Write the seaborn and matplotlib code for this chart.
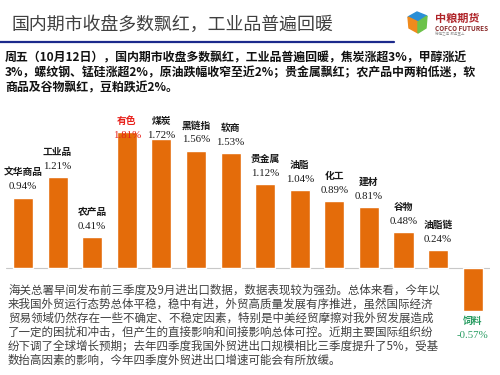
import matplotlib
matplotlib.use("Agg")
import matplotlib.pyplot as plt
import seaborn as sns
import pandas as pd
from matplotlib.patches import Polygon

sns.set_theme(style="white")
plt.rcParams['font.family'] = ['Noto Sans CJK SC', 'DejaVu Sans']

categories = ["文华商品", "工业品", "农产品", "有色", "煤炭", "黑链指", "软商",
              "贵金属", "油脂", "化工", "建材", "谷物", "油脂链", "饲料"]
values = [0.94, 1.21, 0.41, 1.81, 1.72, 1.56, 1.53, 1.12, 1.04, 0.89, 0.81, 0.48, 0.24, -0.57]
value_labels = ["0.94%", "1.21%", "0.41%", "1.81%", "1.72%", "1.56%", "1.53%",
                "1.12%", "1.04%", "0.89%", "0.81%", "0.48%", "0.24%", "-0.57%"]

title = "国内期市收盘多数飘红，工业品普遍回暖"
intro_lines = [
    "周五（10月12日），国内期市收盘多数飘红，工业品普遍回暖，焦炭涨超3%，甲醇涨近",
    "3%，螺纹钢、锰硅涨超2%，原油跌幅收窄至近2%；贵金属飘红；农产品中两粕低迷，软",
    "商品及谷物飘红，豆粕跌近2%。",
]
note_lines = [
    "海关总署早间发布前三季度及9月进出口数据，数据表现较为强劲。总体来看，今年以",
    "来我国外贸运行态势总体平稳，稳中有进，外贸高质量发展有序推进，虽然国际经济",
    "贸易领域仍然存在一些不确定、不稳定因素，特别是中美经贸摩擦对我外贸发展造成",
    "了一定的困扰和冲击，但产生的直接影响和间接影响总体可控。近期主要国际组织纷",
    "纷下调了全球增长预期；去年四季度我国外贸进出口规模相比三季度提升了5%，受基",
    "数抬高因素的影响，今年四季度外贸进出口增速可能会有所放缓。",
]

W, H = 500, 375
fig = plt.figure(figsize=(5, 3.75), dpi=100)
fig.patch.set_facecolor("white")

def fx(x):
    return x / W

def fy(y):
    return 1 - y / H

# Title and header
fig.text(fx(11), fy(25), title, fontsize=12.9, color="#404040", va="center", ha="left")
fig.add_artist(plt.Line2D([0, fx(394)], [fy(42), fy(42)], color="#1c2a8c", lw=1.6))

# Logo
cube_top = Polygon([[fx(408), fy(17)], [fx(417), fy(12)], [fx(427), fy(16)], [fx(418), fy(22)]],
                   closed=True, transform=fig.transFigure, color="#2a8fd6")
cube_left = Polygon([[fx(408), fy(17)], [fx(418), fy(22)], [fx(418), fy(33)], [fx(409), fy(28)]],
                    closed=True, transform=fig.transFigure, color="#f08a1c")
cube_right = Polygon([[fx(418), fy(22)], [fx(427), fy(16)], [fx(426), fy(28)], [fx(418), fy(33)]],
                     closed=True, transform=fig.transFigure, color="#6cc24a")
for p in (cube_top, cube_left, cube_right):
    fig.add_artist(p)
fig.text(fx(435), fy(18), "中粮期货", fontsize=8, fontweight="bold", color="#b0252a", va="center")
fig.text(fx(435), fy(28.5), "COFCO FUTURES", fontsize=4.6, fontweight="bold", color="#8a2a2a", va="center")
fig.text(fx(435), fy(34.5), "稳健之道  服务至上", fontsize=2.5, color="#999999", va="center")

# Intro paragraph
for i, line in enumerate(intro_lines):
    fig.text(fx(5), fy(58 + i * 15), line, fontsize=8.6, fontweight="bold",
             color="#111111", va="center", ha="left")

# Chart
ax = fig.add_axes([fx(5.7), 1 - 320 / H, (490 - 5.7) / W, 220 / H])
df = pd.DataFrame({"category": categories, "value": values})
sns.barplot(data=df, x="category", y="value", color="#e46c0a", saturation=1,
            width=0.58, ax=ax, order=categories)
ax.set_ylim((268 - 320) / 75, (268 - 100) / 75)
ax.set_xlim(-0.5, len(categories) - 0.5)
ax.axhline(0, color="#c8c8c8", lw=0.8, zorder=0)
ax.set_xlabel("")
ax.set_ylabel("")
ax.set_xticks([])
ax.set_yticks([])
for s in ax.spines.values():
    s.set_visible(False)
ax.patch.set_alpha(0)

cap = (268 - 135) / 75
for i, (cat, v, lab) in enumerate(zip(categories, values, value_labels)):
    if v >= 0:
        ly = min(v + 11 / 75, cap)
        ny = ly + 14 / 75
        col = "#e8201a" if cat == "有色" else "#1a1a1a"
    else:
        ny = v - 10 / 75
        ly = v - 25 / 75
        col = "#2a9d63"
    ax.text(i, ny, cat, ha="center", va="center", fontsize=7, fontweight="bold",
            color=col, clip_on=False)
    ax.text(i, ly, lab, ha="center", va="center", fontsize=7.8, color=col,
            family=["Liberation Serif", "DejaVu Serif"], clip_on=False)

# Bottom note paragraph
for i, line in enumerate(note_lines):
    fig.text(fx(8), fy(290 + i * 14), line, fontsize=8.3, color="#404040",
             va="center", ha="left")

fig.savefig("out.png", dpi=100, facecolor="white")
